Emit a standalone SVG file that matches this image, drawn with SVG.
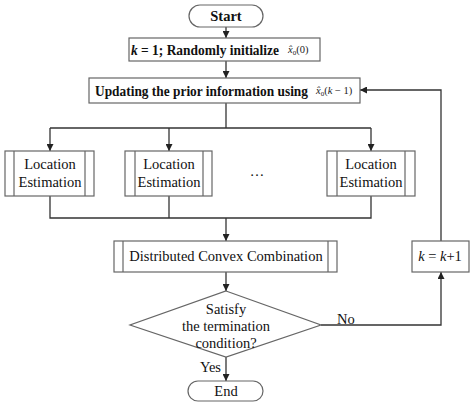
<svg xmlns="http://www.w3.org/2000/svg" width="474" height="408" viewBox="0 0 474 408">
<defs>
<marker id="ah" viewBox="0 0 10 10" refX="10" refY="5" markerWidth="7" markerHeight="7" markerUnits="userSpaceOnUse" orient="auto">
<path d="M0,0 L10,5 L0,10 z" fill="#222"/>
</marker>
<style>
.box{fill:#fff;stroke:#666;stroke-width:1.2}
.in{stroke:#666;stroke-width:1.2}
.ln{fill:none;stroke:#333;stroke-width:1.3}
text{font-family:'Liberation Serif','DejaVu Serif',serif}
.t{font-size:14.5px;fill:#111;text-anchor:middle}
.b{font-weight:bold}
.m{font-size:10.5px;fill:#222}
</style>
</defs>
<rect width="474" height="408" fill="#fff"/>
<g id="connectors">
<line class="ln" x1="226" y1="27" x2="226" y2="38" marker-end="url(#ah)"/>
<line class="ln" x1="226" y1="61" x2="226" y2="78" marker-end="url(#ah)"/>
<polyline class="ln" points="226,103 226,128"/>
<line class="ln" x1="50" y1="128" x2="371" y2="128"/>
<line class="ln" x1="50" y1="128" x2="50" y2="151" marker-end="url(#ah)"/>
<line class="ln" x1="169" y1="128" x2="169" y2="151" marker-end="url(#ah)"/>
<line class="ln" x1="371" y1="128" x2="371" y2="151" marker-end="url(#ah)"/>
<polyline class="ln" points="50,196 50,218 371,218 371,196"/>
<line class="ln" x1="169" y1="196" x2="169" y2="218"/>
<line class="ln" x1="226" y1="218" x2="226" y2="241" marker-end="url(#ah)"/>
<line class="ln" x1="226" y1="272" x2="226" y2="291" marker-end="url(#ah)"/>
<line class="ln" x1="226" y1="357" x2="226" y2="381" marker-end="url(#ah)"/>
<polyline class="ln" points="321,325 441,325 441,272" marker-end="url(#ah)"/>
<polyline class="ln" points="441,241 441,90 360,90" marker-end="url(#ah)"/>
<text class="t" x="337" y="324" style="text-anchor:start">No</text>
<text class="t" x="221" y="372" style="text-anchor:end">Yes</text>
</g>
<g id="start">
<rect class="box" x="189" y="5" width="74" height="22" rx="11"/>
<text class="t b" x="226" y="21">Start</text>
</g>
<g id="init">
<rect class="box" x="129" y="38" width="191" height="23"/>
<text class="t b" x="131" y="55" style="text-anchor:start" textLength="148" lengthAdjust="spacingAndGlyphs"><tspan font-style="italic">k</tspan> = 1; Randomly initialize</text>
<text class="m" x="288" y="53"><tspan font-style="italic">x̂</tspan><tspan font-size="7" dy="2">0</tspan><tspan dy="-2">(0)</tspan></text>
</g>
<g id="update">
<rect class="box" x="89" y="78" width="271" height="25"/>
<text class="t b" x="95" y="96" style="text-anchor:start" textLength="213" lengthAdjust="spacingAndGlyphs">Updating the prior information using</text>
<text class="m" x="316" y="94"><tspan font-style="italic">x̂</tspan><tspan font-size="7" dy="2">0</tspan><tspan dy="-2">(</tspan><tspan font-style="italic">k</tspan> − 1)</text>
</g>
<g id="loc1">
<rect class="box" x="5" y="151" width="89" height="45"/>
<line class="in" x1="14" y1="151" x2="14" y2="196"/>
<line class="in" x1="85" y1="151" x2="85" y2="196"/>
<text class="t" x="50" y="169">Location</text>
<text class="t" x="50" y="187">Estimation</text>
</g>
<g id="loc2">
<rect class="box" x="125" y="151" width="87" height="45"/>
<line class="in" x1="135" y1="151" x2="135" y2="196"/>
<line class="in" x1="203" y1="151" x2="203" y2="196"/>
<text class="t" x="169" y="169">Location</text>
<text class="t" x="169" y="187">Estimation</text>
</g>
<g id="dots">
<text class="t" x="257" y="176">…</text>
</g>
<g id="loc3">
<rect class="box" x="327" y="151" width="88" height="45"/>
<line class="in" x1="337" y1="151" x2="337" y2="196"/>
<line class="in" x1="405" y1="151" x2="405" y2="196"/>
<text class="t" x="371" y="169">Location</text>
<text class="t" x="371" y="187">Estimation</text>
</g>
<g id="dcc">
<rect class="box" x="114" y="241" width="223" height="31"/>
<line class="in" x1="123" y1="241" x2="123" y2="272"/>
<line class="in" x1="328" y1="241" x2="328" y2="272"/>
<text class="t" x="226" y="261">Distributed Convex Combination</text>
</g>
<g id="decision">
<polygon class="box" points="226,291 321,325 226,357 130,325"/>
<text class="t" x="226" y="314">Satisfy</text>
<text class="t" x="226" y="331">the termination</text>
<text class="t" x="226" y="348">condition?</text>
</g>
<g id="inc">
<rect class="box" x="412" y="241" width="57" height="31"/>
<text class="t" x="440" y="261"><tspan font-style="italic">k</tspan> = <tspan font-style="italic">k</tspan>+1</text>
</g>
<g id="end">
<rect class="box" x="188" y="381" width="75" height="20" rx="10"/>
<text class="t" x="226" y="396">End</text>
</g>
</svg>
